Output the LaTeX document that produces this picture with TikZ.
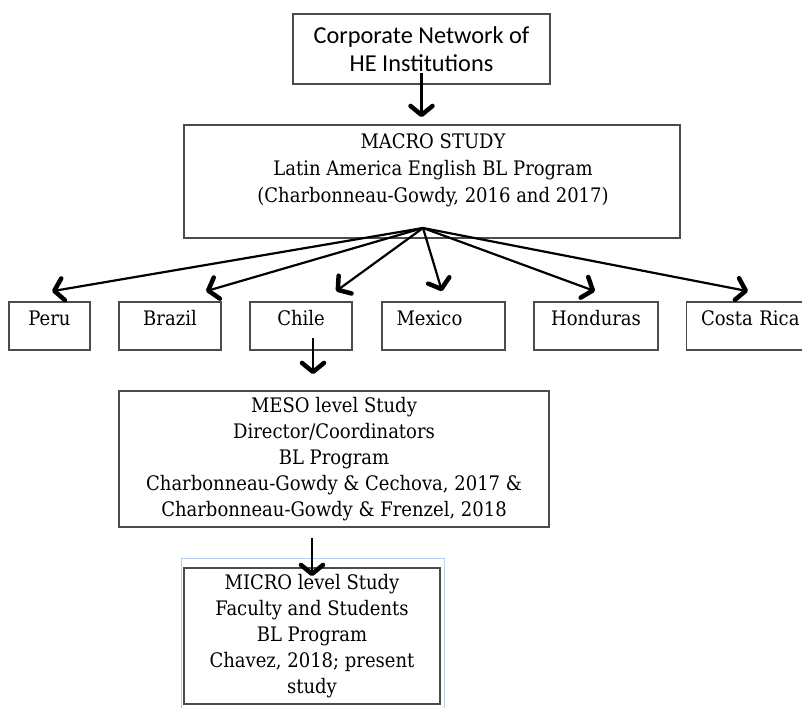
\documentclass[tikz,border=0pt]{standalone}
\usepackage{fontspec}
\setmainfont{DejaVu Serif Condensed}
\newfontfamily\calibrifont{Carlito}
\usetikzlibrary{arrows.meta,calc}
\definecolor{boxline}{RGB}{75,75,75}
\definecolor{faintblue}{RGB}{185,205,240}
\begin{document}
\begin{tikzpicture}[x=1pt,y=-1pt,
  box/.style={draw=boxline,line width=1.6pt,inner sep=0pt},
  arr/.style={line width=2.2pt,-{Straight Barb[length=9pt,width=22pt,line width=4.5pt,round]}},
  serif/.style={font=\fontsize{20}{26}\selectfont},
  cbox/.style={box,serif,text height=23pt,text depth=25pt,align=center},
  lbox/.style={cbox,inner xsep=14.5pt,align=left}
]
\useasboundingbox (0,0) rectangle (802,708);
\clip (0,0) rectangle (802,708);

% top
\node[box,minimum width=257pt,minimum height=70pt,align=center,
  font=\calibrifont\fontsize{24.3}{28}\selectfont] (corp) at (421.5,49)
  {Corporate Network of\\HE Institutions};

% macro
\node[box,minimum width=496pt,minimum height=113pt] (macro) at (432,181.5) {};
\node[align=center,inner sep=0pt,font=\fontsize{20}{27}\selectfont] (macrotxt) at (433,170)
  {MACRO STUDY\\Latin America English BL Program\\(Charbonneau-Gowdy, 2016 and 2017)};

% countries
\node[cbox,minimum width=81pt]  (peru)   at (49.5,326) {Peru};
\node[cbox,minimum width=102pt] (brazil) at (170,326) {Brazil};
\node[cbox,minimum width=102pt] (chile)  at (301,326) {Chile};
\node[lbox,text width=94pt]     (mexico) at (443.5,326) {Mexico};
\node[cbox,minimum width=124pt] (hond)   at (596,326) {Honduras};
\node[lbox,text width=110pt]    (costa)  at (756,326) {Costa Rica};

% meso
\node[box,serif,minimum width=430pt,minimum height=136pt,align=center] (meso) at (334,459)
  {MESO level Study\\Director/Coordinators\\BL Program\\Charbonneau-Gowdy \& Cechova, 2017 \&\\Charbonneau-Gowdy \& Frenzel, 2018};

% micro
\draw[faintblue,line width=1pt] (181,712) -- (181,558) -- (444,558) -- (444,712);
\node[box,serif,minimum width=256pt,minimum height=136pt,align=center] (micro) at (312,636)
  {MICRO level Study\\Faculty and Students\\BL Program\\Chavez, 2018; present\\study};

% connectors
\draw[arr] ([yshift=12pt]corp.south) -- (corp.south |- macro.north) [shorten >=7pt];
\coordinate (o) at (423,228);
\draw[arr] (o) -- ($(peru.north)+(2.5,-10)$);
\draw[arr] (o) -- ($(brazil.north)+(36,-10)$);
\draw[arr] (o) -- ($(chile.north)+(35,-10)$);
\draw[arr] (o) -- ($(mexico.north)+(-1.5,-10)$);
\draw[arr] (o) -- ($(hond.north)+(-1,-10)$);
\draw[arr] (o) -- ($(costa.north)+(-8,-10)$);
\draw[arr,shorten >=16pt] ([xshift=12pt,yshift=13pt]chile.south) -- ([xshift=12pt]chile.south |- meso.north);
\draw[arr] ([yshift=-10pt]micro.north |- meso.south) -- ([yshift=-9pt]micro.north);
\end{tikzpicture}
\end{document}
